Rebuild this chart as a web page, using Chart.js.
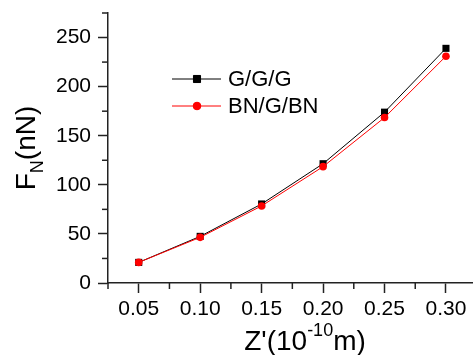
<!DOCTYPE html>
<html>
<head>
  <meta charset="UTF-8">
  <title>F_N vs Z'</title>
  <script src="https://cdn.jsdelivr.net/npm/chart.js@4.4.1/dist/chart.umd.min.js"></script>
  <style>
    html, body { margin: 0; padding: 0; background: #fff; }
    #wrap { width: 473px; height: 355px; position: relative; }
  </style>
</head>
<body>
  <div id="wrap"><canvas id="chart"></canvas></div>

  <script>
    // data
    const zValues = [0.05, 0.10, 0.15, 0.20, 0.25, 0.30];
    const gggForce = [21, 47.5, 80.5, 121.5, 174, 239];
    const bngbnForce = [21, 46.5, 78.5, 118.5, 168.5, 231];
    const xTickValues = [0.05, 0.10, 0.15, 0.20, 0.25, 0.30];
    const yTickValues = [0, 50, 100, 150, 200, 250];
    const seriesNames = ["G/G/G", "BN/G/BN"];

    const FONT = "'Liberation Sans', Arial, sans-serif";
    const AXIS = "#222";

    // minor ticks, sub/superscript axis titles and the legend
    const decorations = {
      id: "decorations",
      afterDraw(chart) {
        const ctx = chart.ctx;
        const area = chart.chartArea;
        const xs = chart.scales.x, ys = chart.scales.y;
        ctx.save();
        ctx.strokeStyle = AXIS;
        ctx.lineWidth = 1.5;

        // minor ticks halfway between major ones
        for (let i = 0; i < xTickValues.length; i++) {
          const v = xTickValues[i] - 0.025;
          const px = xs.getPixelForValue(v);
          ctx.beginPath();
          ctx.moveTo(px, area.bottom);
          ctx.lineTo(px, area.bottom + 6);
          ctx.stroke();
        }
        for (let i = 0; i < yTickValues.length; i++) {
          const v = yTickValues[i] + 25;
          if (v > ys.max) continue;
          const py = ys.getPixelForValue(v);
          ctx.beginPath();
          ctx.moveTo(area.left, py);
          ctx.lineTo(area.left - 6, py);
          ctx.stroke();
        }

        // x title: Z'(10^-10 m)
        ctx.fillStyle = "#000";
        ctx.textBaseline = "alphabetic";
        ctx.textAlign = "left";
        const big = "28px " + FONT, small = "18px " + FONT;
        ctx.font = big;
        const a = "Z'(10", c = "m)";
        const wa = ctx.measureText(a).width, wc = ctx.measureText(c).width;
        ctx.font = small;
        const b = "-10";
        const wb = ctx.measureText(b).width;
        let x0 = 305 - (wa + wb + wc) / 2;
        const base = 350;
        ctx.font = big; ctx.fillText(a, x0, base);
        ctx.font = small; ctx.fillText(b, x0 + wa, base - 14);
        ctx.font = big; ctx.fillText(c, x0 + wa + wb, base);

        // y title: F_N(nN), rotated
        ctx.save();
        ctx.translate(35, 148);
        ctx.rotate(-Math.PI / 2);
        ctx.font = big;
        const f = "F", r = "(nN)";
        const wf = ctx.measureText(f).width, wr = ctx.measureText(r).width;
        ctx.font = small;
        const n = "N";
        const wn = ctx.measureText(n).width;
        let y0 = -(wf + wn + wr) / 2;
        ctx.font = big; ctx.fillText(f, y0, 0);
        ctx.font = small; ctx.fillText(n, y0 + wf, 8);
        ctx.font = big; ctx.fillText(r, y0 + wf + wn, 0);
        ctx.restore();

        // legend
        const rows = [
          { y: 79, color: "#000", style: "rect", r: 5 },
          { y: 106, color: "#ff0000", style: "circle", r: 3.8 }
        ];
        ctx.font = "22px " + FONT;
        ctx.textBaseline = "middle";
        rows.forEach((row, i) => {
          ctx.strokeStyle = row.color;
          ctx.lineWidth = 1;
          ctx.beginPath();
          ctx.moveTo(172, row.y);
          ctx.lineTo(221, row.y);
          ctx.stroke();
          ctx.fillStyle = row.color;
          Chart.helpers.drawPoint(ctx, { pointStyle: row.style, radius: row.r, borderWidth: 1 }, 197, row.y);
          ctx.fill();
          ctx.fillStyle = "#000";
          ctx.fillText(seriesNames[i], 228, row.y + 1);
        });
        ctx.restore();
      }
    };

    new Chart(document.getElementById("chart").getContext("2d"), {
      type: "line",
      data: {
        datasets: [
          {
            label: seriesNames[0],
            data: zValues.map((z, i) => ({ x: z, y: gggForce[i] })),
            borderColor: "#000",
            backgroundColor: "#000",
            borderWidth: 1,
            pointStyle: "rect",
            pointRadius: 5,
            pointBorderWidth: 0,
            order: 2
          },
          {
            label: seriesNames[1],
            data: zValues.map((z, i) => ({ x: z, y: bngbnForce[i] })),
            borderColor: "#ff0000",
            backgroundColor: "#ff0000",
            borderWidth: 1,
            pointStyle: "circle",
            pointRadius: 3.8,
            pointBorderWidth: 0,
            order: 1
          }
        ]
      },
      options: {
        responsive: true,
        maintainAspectRatio: false,
        animation: false,
        layout: { autoPadding: false, padding: { top: 13, right: 0, left: 0, bottom: 0 } },
        plugins: {
          legend: { display: false },
          tooltip: { enabled: false }
        },
        scales: {
          x: {
            type: "linear",
            min: 0.025,
            max: 0.322,
            afterBuildTicks: s => { s.ticks = xTickValues.map(v => ({ value: v })); },
            afterFit: s => { s.height = 72; s.paddingLeft = 0; s.paddingRight = 0; },
            grid: { drawOnChartArea: false, tickLength: 10, tickColor: AXIS, tickWidth: 1.5 },
            border: { color: AXIS, width: 1.5 },
            ticks: {
              color: "#000",
              font: { family: FONT, size: 21 },
              padding: 4,
              maxRotation: 0,
              callback: v => v.toFixed(2)
            }
          },
          y: {
            min: 0,
            max: 275,
            afterBuildTicks: s => { s.ticks = yTickValues.map(v => ({ value: v })); },
            afterFit: s => { s.width = 108; s.paddingTop = 0; s.paddingBottom = 0; },
            grid: { drawOnChartArea: false, tickLength: 10, tickColor: AXIS, tickWidth: 1.5 },
            border: { color: AXIS, width: 1.5 },
            ticks: {
              color: "#000",
              font: { family: FONT, size: 21 },
              padding: 7
            }
          }
        }
      },
      plugins: [decorations]
    });
  </script>
</body>
</html>
